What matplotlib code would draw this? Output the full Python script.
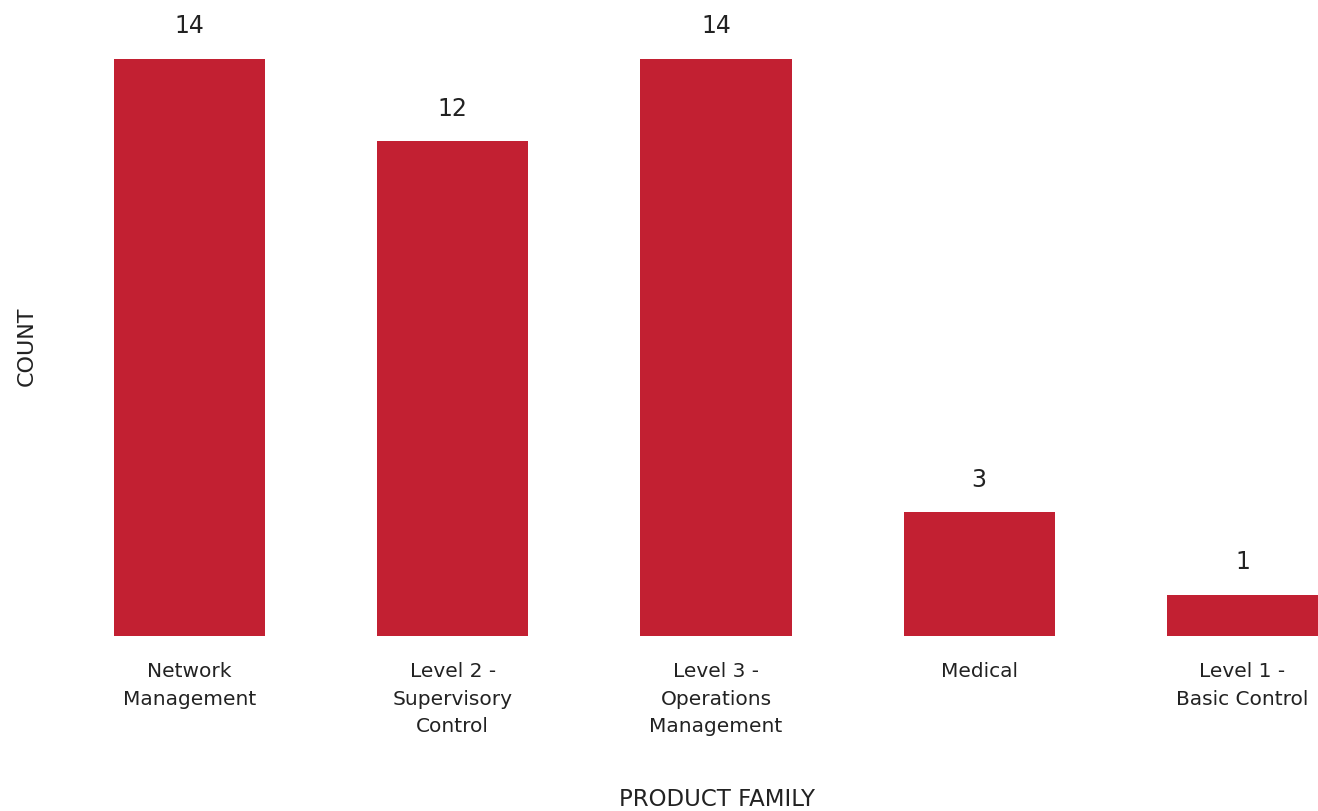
import matplotlib.pyplot as plt
import numpy as np

families = ['Network\nManagement', 'Level 2 -\nSupervisory\nControl',
            'Level 3 -\nOperations\nManagement', 'Medical', 'Level 1 -\nBasic Control']
counts = [14, 12, 14, 3, 1]

bar_color = '#C22032'
text_color = '#222222'
plt.rcParams['font.family'] = ['DejaVu Sans']

fig = plt.figure(figsize=(13.18, 8.11), dpi=100)
ax = fig.add_axes([114 / 1318, 1 - 636 / 811, 1 - 114 / 1318, (636 - 59) / 811])

x = np.arange(len(families))
width = 0.574
bars = ax.bar(x, counts, width, color=bar_color)

for rect, val in zip(bars, counts):
    ax.text(rect.get_x() + rect.get_width() / 2, val + 0.5, str(val),
            ha='center', va='bottom', fontsize=17, color=text_color, clip_on=False)

ax.set_xlim(-width / 2, len(families) - 1 + width / 2)
ax.set_ylim(0, 14)
ax.set_xticks(x)
ax.set_xticklabels(families, fontsize=14.5, color=text_color, linespacing=1.55)
ax.tick_params(axis='x', length=0, pad=19)
ax.set_yticks([])
for s in ax.spines.values():
    s.set_visible(False)

fig.text(717 / 1318, 1 - 799 / 811, 'PRODUCT FAMILY', ha='center', va='center',
         fontsize=16.5, color=text_color)
fig.text(27 / 1318, 1 - 346 / 811, 'COUNT', ha='center', va='center',
         rotation=90, fontsize=16, color=text_color)

fig.savefig('out.png', dpi=100)
